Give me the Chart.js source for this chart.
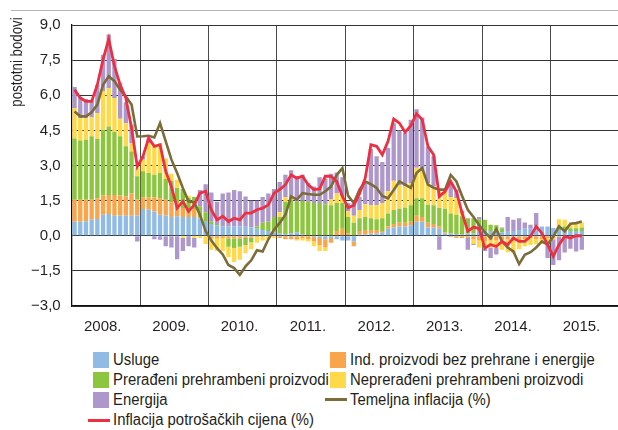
<!DOCTYPE html>
<html>
<head>
<meta charset="utf-8">
<script src="https://cdn.jsdelivr.net/npm/chart.js@4.4.1/dist/chart.umd.min.js"></script>
<style>
  html, body { margin: 0; padding: 0; background: #fff; }
  body { width: 618px; height: 430px; overflow: hidden; position: relative;
         font-family: "Liberation Sans", Arial, sans-serif; color: #231f20; }
  #crta { position: absolute; left: 11px; top: 10px; width: 607px; border-top: 1px solid #b5b5b5; }
  #chartInflacija { position: absolute; left: 0; top: 0; }
  #legenda .stavka { position: absolute; }
  #legenda .opis { font-size: 16px; line-height: 18px; white-space: nowrap;
                   transform: scaleX(0.93); transform-origin: 0 50%; }
  #legenda .kvadrat { width: 16px; height: 16px; }
  #legenda .linija { width: 22px; height: 3px; }
</style>
</head>
<body>
<div id="crta"></div>
<canvas id="chartInflacija" width="628" height="345"></canvas>
<div id="legenda"></div>
<script>
// Data
var godine = ['2008.', '2009.', '2010.', '2011.', '2012.', '2013.', '2014.', '2015.'];
var mjeseci = ['01', '02', '03', '04', '05', '06', '07', '08', '09', '10', '11', '12'];
var yTicks = [-3, -1.5, 0, 1.5, 3, 4.5, 6, 7.5, 9];

// doprinosi, postotni bodovi (sij. 2008. - lip. 2015.)
var usluge = [
  0.60, 0.60, 0.62, 0.70, 0.72, 0.90, 0.93, 0.85, 0.87, 0.85, 0.85, 0.87,
  1.14, 1.11, 1.04, 0.90, 0.87, 0.80, 0.83, 0.80, 0.80, 0.80, 0.75, 0.60,
  0.50, 0.45, 0.40, 0.40, 0.40, 0.40, 0.38, 0.35, 0.30, 0.25, 0.20, 0.15,
  0.10, 0.05, 0.10, 0.15, 0.05, 0.00, -0.05, -0.10, -0.15, -0.10, -0.15, -0.20,
  -0.20, -0.25, 0.05, 0.05, 0.10, 0.10, 0.15, 0.30, 0.35, 0.40, 0.40, 0.45,
  0.60, 0.60, 0.35, 0.35, 0.30, 0.10, 0.10, 0.05, 0.05, 0.10, 0.10, 0.30,
  0.20, 0.20, 0.15, 0.15, 0.20, 0.20, 0.25, 0.30, 0.30, 0.40, 0.40, 0.40,
  0.33, 0.25, 0.25, 0.20, 0.20, 0.20
];
var indProizvodi = [
  0.94, 0.94, 0.92, 0.84, 0.88, 0.82, 0.81, 0.89, 0.85, 0.83, 0.95, 0.68,
  0.50, 0.53, 0.60, 0.70, 0.67, 0.62, 0.57, 0.38, 0.34, 0.34, 0.05, 0.00,
  -0.10, -0.10, -0.10, -0.12, -0.12, -0.12, -0.10, -0.08, -0.05, -0.05, 0.00, 0.05,
  -0.10, -0.15, -0.15, -0.15, -0.10, -0.15, -0.20, -0.30, -0.35, -0.20, 0.20, 0.30,
  0.10, -0.20, 0.15, 0.20, 0.15, 0.15, 0.05, 0.10, 0.15, 0.15, 0.15, 0.15,
  0.25, 0.20, 0.20, 0.15, 0.10, 0.05, -0.05, -0.10, -0.10, -0.10, -0.15, -0.20,
  -0.25, -0.20, -0.20, -0.20, -0.15, -0.15, -0.20, -0.15, -0.10, -0.15, -0.15, -0.10,
  -0.10, -0.05, -0.05, 0.00, 0.00, 0.00
];
var preradeni = [
  2.61, 2.53, 2.56, 2.71, 2.53, 2.81, 2.93, 2.69, 2.53, 2.14, 1.80, 0.99,
  1.11, 1.04, 0.96, 1.08, 0.88, 0.93, 0.64, 0.82, 0.47, 0.51, 0.45, 0.40,
  0.10, 0.05, 0.00, -0.35, -0.40, -0.35, -0.30, -0.20, 0.10, 0.30, 0.40, 0.60,
  0.70, 1.40, 1.45, 1.30, 1.45, 1.45, 1.40, 1.40, 1.35, 1.30, 1.20, 1.10,
  0.70, 0.55, 0.55, 0.55, 0.50, 0.45, 0.55, 0.55, 0.60, 0.60, 0.65, 0.70,
  0.75, 0.80, 0.77, 0.80, 0.78, 1.00, 0.85, 0.85, 0.78, 0.65, 0.65, 0.40,
  0.48, 0.27, 0.30, 0.15, 0.00, -0.05, -0.05, 0.00, 0.00, 0.00, 0.00, 0.00,
  0.00, 0.15, 0.15, 0.12, 0.12, 0.15
];
var nepreradeni = [
  1.31, 0.96, 0.93, 0.82, 1.11, 1.64, 1.64, 1.45, 0.75, 0.98, 0.35, 0.36,
  0.50, 1.27, 1.25, 1.27, 0.88, 0.30, 0.35, -0.10, 0.10, -0.10, -0.10, -0.35,
  -0.50, -0.55, -0.55, -0.45, -0.60, -0.55, -0.35, -0.30, -0.25, -0.15, -0.15, -0.10,
  0.20, 0.20, 0.05, -0.05, -0.10, -0.10, -0.20, -0.25, -0.15, 0.25, 0.40, 0.30,
  0.25, 0.30, 0.35, 0.55, 0.55, 0.60, 0.65, 0.95, 1.25, 1.00, 0.90, 0.95,
  1.30, 1.15, 0.93, 0.80, 0.72, 0.75, 0.70, 0.70, 0.14, 0.00, -0.20, -0.30,
  -0.30, -0.30, -0.30, -0.40, -0.55, -0.55, -0.33, -0.30, -0.30, -0.20, -0.20, -0.15,
  -0.05, 0.30, 0.28, 0.15, 0.18, 0.22
];
var energija = [
  0.89, 0.90, 0.81, 0.74, 1.21, 1.56, 2.28, 1.68, 1.52, 0.90, 0.80, -0.25,
  0.15, 0.20, -0.15, -0.17, -0.45, -0.50, -1.00, -0.55, -0.45, -0.40, 0.70, 1.20,
  1.25, 0.95, 1.40, 1.45, 1.55, 1.50, 1.30, 1.15, 1.10, 1.10, 1.20, 1.20,
  1.30, 0.95, 1.20, 1.10, 1.10, 0.80, 0.70, 1.10, 1.10, 1.10, 0.90, 0.80,
  0.35, 0.55, 0.55, 0.90, 2.40, 2.10, 1.75, 1.85, 2.45, 2.35, 2.30, 2.70,
  2.50, 2.30, 1.55, 1.30, -0.60, 0.10, 0.60, 0.35, 0.10, -0.50, -0.05, 0.10,
  -0.10, -0.45, -0.30, 0.05, 0.60, 0.48, 0.50, 0.27, 0.17, 0.57, 0.00, -0.70,
  -1.10, -1.00, -0.67, -0.55, -0.67, -0.60
];
// stope, %
var temeljna = [
  5.31, 5.10, 5.10, 5.27, 5.60, 6.45, 6.81, 6.60, 6.24, 5.95, 5.60, 4.24,
  4.25, 4.27, 4.20, 4.81, 4.03, 3.25, 2.68, 2.04, 1.47, 1.42, 0.90, 0.20,
  -0.20, -0.53, -0.80, -1.25, -1.38, -1.67, -1.31, -1.05, -0.62, -0.67, -0.15, 0.26,
  0.55, 0.90, 1.68, 1.54, 1.82, 1.78, 1.75, 1.75, 1.90, 2.10, 2.60, 2.89,
  1.70, 1.40, 1.97, 2.32, 2.20, 2.04, 1.70, 1.60, 1.95, 2.32, 2.18, 2.04,
  2.68, 2.89, 2.18, 2.05, 1.97, 1.97, 2.60, 2.32, 1.70, 1.11, 0.80, 0.45,
  0.15, -0.10, 0.28, -0.24, -0.50, -0.67, -1.21, -0.81, -0.70, -0.50, -0.24, -0.38,
  -0.03, 0.40, 0.19, 0.51, 0.54, 0.61
];
var inflacija = [
  6.24, 5.88, 5.74, 5.74, 6.45, 7.52, 8.40, 7.24, 6.45, 5.88, 4.60, 2.96,
  3.39, 4.17, 3.82, 3.89, 2.75, 2.10, 1.18, 1.47, 1.04, 1.32, 1.82, 1.90,
  1.10, 0.68, 0.83, 0.61, 0.75, 0.68, 0.97, 0.97, 1.11, 1.18, 1.32, 1.82,
  1.97, 2.18, 2.60, 2.46, 2.54, 2.18, 1.97, 2.00, 2.54, 2.54, 2.32, 1.68,
  1.20, 1.30, 1.80, 2.46, 3.89, 3.82, 3.46, 4.03, 4.99, 4.81, 4.42, 4.70,
  5.21, 4.96, 3.82, 3.46, 1.68, 1.89, 2.32, 1.89, 0.97, 0.19, 0.37, 0.30,
  -0.53, -0.38, -0.46, -0.24, -0.38, -0.10, -0.24, -0.24, -0.03, 0.40, 0.11, -0.38,
  -0.88, -0.38, -0.03, -0.10, 0.00, 0.00
];

var kategorije = [];
godine.forEach(function (g) {
  mjeseci.forEach(function (m) { kategorije.push(g + m); });
});

var font = { family: '"Liberation Sans", Arial, sans-serif', size: 15 };
var tekst = '#231f20';

function stupac(label, data, boja) {
  return { type: 'bar', label: label, data: data, backgroundColor: boja,
           borderWidth: 0, barPercentage: 0.76, categoryPercentage: 1, order: 2 };
}
function crta(label, data, boja, sirina, stack, red) {
  return { type: 'line', label: label, data: data, borderColor: boja, backgroundColor: boja,
           borderWidth: sirina, pointRadius: 0, tension: 0, fill: false, stack: stack, order: red };
}

var data = {
  labels: kategorije,
  datasets: [
    stupac('Usluge', usluge, '#8fbbe5'),
    stupac('Ind. proizvodi bez prehrane i energije', indProizvodi, '#f8a54c'),
    stupac('Prerađeni prehrambeni proizvodi', preradeni, '#8cc63f'),
    stupac('Neprerađeni prehrambeni proizvodi', nepreradeni, '#ffd94a'),
    stupac('Energija', energija, '#ae98cb'),
    crta('Temeljna inflacija (%)', temeljna, '#7b6c3a', 2.6, 'temeljna', 1),
    crta('Inflacija potrošačkih cijena (%)', inflacija, '#ec2f42', 2.8, 'ukupna', 0)
  ]
};

// naslov osi y (sužen, kao u izvorniku)
var naslovOsi = {
  id: 'naslovOsi',
  afterDraw: function (chart) {
    var c = chart.ctx;
    c.save();
    c.translate(18, 62);
    c.rotate(-Math.PI / 2);
    c.scale(0.83, 1);
    c.font = '16px ' + font.family;
    c.fillStyle = tekst;
    c.textAlign = 'center';
    c.textBaseline = 'middle';
    c.fillText('postotni bodovi', 0, 0);
    c.restore();
  }
};

// legenda u dva stupca
var htmlLegenda = {
  id: 'htmlLegenda',
  afterUpdate: function (chart) {
    var box = document.getElementById('legenda');
    box.innerHTML = '';
    var redovi = [359.5, 380, 399.5, 420];
    chart.data.datasets.forEach(function (ds, i) {
      var red = Math.floor(i / 2), st = i % 2;
      var x = st === 0 ? 93 : 330;
      var y = redovi[red];
      var znak = document.createElement('div');
      if (ds.type === 'line') {
        znak.className = 'stavka linija';
        znak.style.left = (x - 5) + 'px';
        znak.style.top = (y - 1.5) + 'px';
        znak.style.background = ds.borderColor;
      } else {
        znak.className = 'stavka kvadrat';
        znak.style.left = x + 'px';
        znak.style.top = (y - 8) + 'px';
        znak.style.background = ds.backgroundColor;
      }
      box.appendChild(znak);

      var txt = document.createElement('div');
      txt.className = 'stavka opis';
      txt.textContent = ds.label;
      txt.style.left = (x + 20) + 'px';
      txt.style.top = (y - 9) + 'px';
      box.appendChild(txt);
    });
  }
};

var options = {
  responsive: false,
  animation: false,
  devicePixelRatio: 1,
  layout: { padding: { top: 25, right: 2.7, bottom: 0, left: 0 } },
  plugins: { legend: { display: false }, tooltip: { enabled: false } },
  scales: {
    x: {
      stacked: true,
      z: 1,
      grid: {
        offset: true,
        drawTicks: false,
        lineWidth: 1,
        color: function (c) { return c.index % 12 === 0 ? '#4a4a4a' : 'rgba(0,0,0,0)'; }
      },
      border: { display: true, color: '#111', width: 1.3 },
      ticks: {
        autoSkip: false, maxRotation: 0, minRotation: 0, padding: 12, labelOffset: -6,
        font: font, color: tekst,
        callback: function (v, i) { return i % 12 === 6 ? godine[Math.floor(i / 12)] : ''; }
      },
      afterFit: function (s) { s.height = 39; }
    },
    y: {
      stacked: true,
      z: 1,
      min: yTicks[0],
      max: yTicks[yTicks.length - 1],
      afterBuildTicks: function (s) { s.ticks = yTicks.map(function (v) { return { value: v }; }); },
      grid: { color: '#333', lineWidth: 1, drawTicks: false },
      border: { display: true, color: '#111', width: 1.3 },
      ticks: {
        padding: 11, font: font, color: tekst,
        callback: function (v) {
          var s = Math.abs(v).toFixed(1).replace('.', ',');
          return v < 0 ? '\u2212' + s : s;
        }
      },
      afterFit: function (s) { s.width = 71.7; }
    }
  }
};

var canvas = document.getElementById('chartInflacija');
var ctx = canvas.getContext('2d');
var grafikon = new Chart(ctx, {
  data: data,
  options: options,
  plugins: [naslovOsi, htmlLegenda]
});
</script>
</body>
</html>
